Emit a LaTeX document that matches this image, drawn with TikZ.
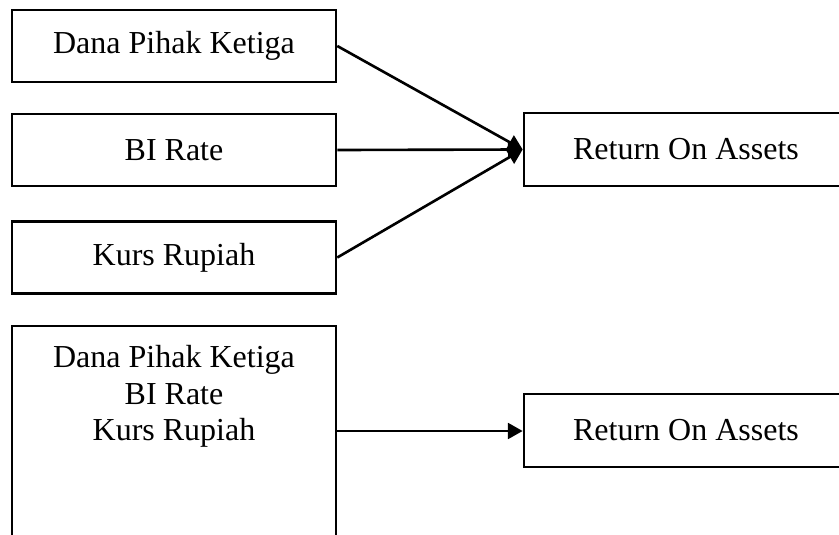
\documentclass[tikz,border=0pt]{standalone}
\usepackage{fontspec}
\setmainfont{Liberation Serif}
\usepackage{tikz}
\usetikzlibrary{arrows.meta}
\usetikzlibrary{positioning}

\tikzset{
  varbox/.style={draw,line width=1pt,rectangle,inner sep=0pt,font=\fontsize{12.2}{14}\selectfont},
  link/.style={line width=1pt,-{Triangle[length=5.6pt,width=6pt]}}
}

\begin{document}
\begin{tikzpicture}[x=0.0134cm,y=-0.0134cm]
  \useasboundingbox (0,0) rectangle (839,535);
  % upper model: each variable on its own
  \node[varbox,minimum width=324*0.0134cm,minimum height=72*0.0134cm] (dpk) at (174,46) {Dana Pihak Ketiga};
  \node[varbox,minimum width=324*0.0134cm,minimum height=72*0.0134cm] (bir) at (174,150) {BI Rate};
  \node[varbox,minimum width=324*0.0134cm,minimum height=72*0.0134cm] (kurs) at (174,257.5) {Kurs Rupiah};
  \node[varbox,minimum width=324*0.0134cm,minimum height=73*0.0134cm] (roa) at (686,149.5) {Return On Assets};
  \draw[link] (dpk.east) -- (roa.west);
  \draw[link] (bir.east) -- (roa.west);
  \draw[link] (kurs.east) -- (roa.west);
  % lower model: all variables together
  \node[varbox,minimum width=324*0.0134cm,minimum height=230*0.0134cm] (all) at (174,441) {};
  \node[font=\fontsize{12.2}{14}\selectfont,align=center,anchor=north] (alltxt) at (174,336) {Dana Pihak Ketiga\\BI Rate\\Kurs Rupiah};
  \node[varbox,minimum width=324*0.0134cm,minimum height=73*0.0134cm] (roab) at (686,430.5) {Return On Assets};
  \coordinate (start) at (all.east |- 0,431);
  \draw[link] (start) -- (roab.west |- start);
\end{tikzpicture}
\end{document}
